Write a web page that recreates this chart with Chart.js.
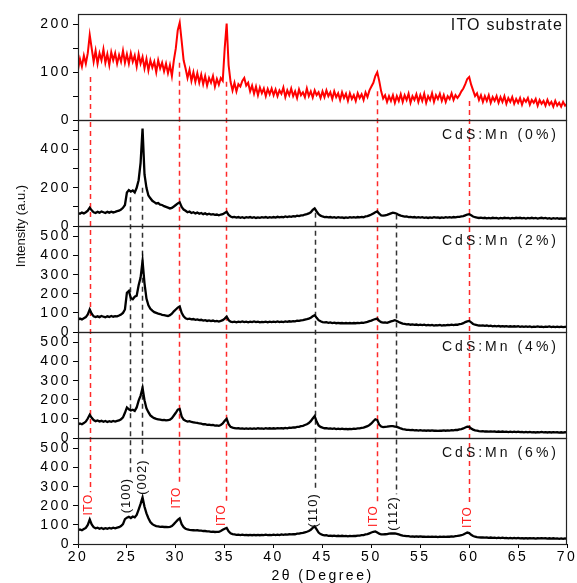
<!DOCTYPE html>
<html><head><meta charset="utf-8">
<script src="https://cdn.jsdelivr.net/npm/chart.js@4/dist/chart.umd.min.js"></script>
<style>html,body{margin:0;padding:0;background:#fff;}#wrap{width:577px;height:583px;}</style>
</head><body><div id="wrap"><canvas id="c" width="577" height="583"></canvas></div>
<script>
// 2θ sampling grid: 20.0 .. 70.0 in 0.2° steps
const xStart = 20, xStep = 0.2, nPts = 251;
const twoTheta = [];
for (let i = 0; i < nPts; i++) twoTheta.push(+(xStart + xStep * i).toFixed(1));

const itoSubstrate = [
105,128,112,135,118,140,178,150,122,145,118,140,125,148,120,138,115,142,125,140,118,136,122,145,120,
138,118,140,122,135,112,138,118,132,108,128,104,125,110,122,100,125,108,120,102,118,98,115,92,125,
150,188,204,165,125,108,88,105,82,100,80,98,78,95,75,92,72,88,78,92,70,86,74,88,82,
150,202,115,80,62,78,60,75,70,82,88,72,78,60,72,55,70,52,68,56,66,50,65,54,66,
52,64,50,62,55,68,48,62,52,66,50,60,46,64,52,58,48,66,50,60,47,62,52,58,46,
60,48,62,50,58,44,60,48,56,42,58,46,55,40,56,44,52,40,56,46,54,42,58,48,62,
70,78,92,100,82,60,45,52,38,50,40,52,36,50,40,54,38,52,42,55,36,50,42,54,38,
52,40,55,36,50,42,56,38,52,44,55,40,52,38,50,44,56,42,52,46,52,60,66,75,86,
90,74,62,50,56,42,52,38,50,40,52,36,48,40,50,36,48,38,50,34,46,38,48,34,44,
36,46,32,44,38,46,32,42,36,44,30,42,34,40,30,42,32,38,28,40,30,36,28,38,30,
34];
const cdsMn0 = [
68,64,70,66,72,80,96,82,72,68,74,70,76,72,68,74,70,75,71,74,78,80,86,95,110,
175,188,180,186,176,200,240,330,510,270,200,160,145,132,125,118,120,112,110,104,100,96,92,95,102,
110,118,124,100,86,80,72,76,68,72,66,70,64,68,62,66,60,64,60,62,58,60,56,60,62,
68,74,58,50,46,48,44,47,43,46,42,46,44,47,43,46,42,45,43,46,44,47,43,46,44,
47,44,48,45,48,46,50,47,50,48,52,50,54,52,56,56,60,62,66,72,84,92,76,62,54,
50,47,48,45,47,44,46,43,46,44,45,42,45,43,46,44,46,44,47,45,48,46,50,52,56,
60,66,72,76,64,56,54,56,58,62,66,70,68,64,58,54,52,49,50,47,48,45,47,44,46,
44,46,43,45,42,45,43,46,44,45,42,45,43,46,44,46,44,47,45,48,48,50,52,56,60,
62,56,50,46,44,42,44,41,43,40,42,40,43,41,42,39,42,40,43,41,42,39,42,40,43,
41,43,40,42,39,42,40,43,40,42,39,41,43,40,42,39,41,38,41,39,41,38,40,38,40,
39];
const cdsMn2 = [
64,70,66,72,78,92,118,96,82,78,82,78,84,80,77,82,79,84,80,83,82,86,92,100,118,
205,215,178,172,185,190,245,285,372,255,175,140,122,112,104,100,96,94,90,88,86,84,88,96,108,
118,128,134,100,82,72,68,70,66,68,64,66,62,64,60,62,58,61,57,60,56,58,55,58,62,
70,80,62,54,52,54,51,54,52,55,52,54,51,54,52,55,52,54,51,53,52,54,51,54,52,
54,52,55,52,54,52,55,53,56,54,57,56,59,58,61,62,65,67,70,75,82,88,74,62,56,
52,50,51,48,50,47,49,46,48,46,47,45,47,45,47,45,47,46,48,47,49,48,51,53,57,
60,64,68,70,58,52,49,50,48,52,56,58,62,58,52,48,44,42,40,41,38,40,37,39,36,
38,36,38,35,37,35,37,34,36,35,37,34,36,35,37,36,38,36,39,38,41,43,46,52,56,
58,50,42,38,36,34,33,35,32,34,31,33,30,32,30,32,29,31,29,31,28,30,28,30,28,
30,27,29,27,29,27,29,26,28,27,29,27,28,26,28,27,29,26,28,26,28,26,28,26,27,
28];
const cdsMn4 = [
70,76,72,78,86,102,122,106,94,88,92,86,90,85,89,84,88,85,89,86,90,92,98,108,132,
160,150,144,148,142,160,196,222,262,198,155,135,118,110,104,100,98,96,94,95,92,93,96,104,118,
132,148,152,112,96,90,86,88,84,82,80,79,76,75,72,72,69,70,67,68,65,66,64,68,76,
90,100,72,58,54,52,50,51,49,50,48,50,48,50,48,50,48,51,49,50,48,51,49,51,49,
51,49,52,50,52,50,53,51,54,53,56,55,58,58,62,64,68,72,78,88,102,115,86,66,58,
54,51,52,49,50,48,50,47,49,47,49,47,48,46,48,47,49,48,50,50,53,54,58,62,68,
76,88,98,94,70,60,57,58,59,61,62,62,60,58,54,50,47,45,43,42,41,42,40,41,39,
41,39,40,38,40,38,40,38,39,37,39,38,40,38,40,39,41,40,42,42,45,47,50,55,59,
58,50,44,40,38,36,35,36,34,35,33,35,33,34,32,34,32,34,32,33,31,33,31,33,31,
33,31,32,30,32,30,32,30,31,29,31,30,32,30,31,29,31,29,31,29,30,28,30,28,30,
29];
const cdsMn6 = [
72,76,72,78,84,100,128,102,88,82,85,80,84,79,83,80,84,81,85,82,86,88,94,104,130,
138,142,136,144,140,152,180,210,244,195,160,135,115,104,98,94,92,90,91,89,90,88,90,94,104,
115,126,134,104,88,80,76,74,73,72,71,72,70,70,68,68,66,66,64,65,63,64,64,68,74,
80,84,66,56,52,50,48,49,47,49,47,48,46,48,46,48,46,48,46,48,47,49,47,48,47,
49,47,49,47,50,48,50,49,51,50,52,51,54,54,57,58,61,64,68,74,84,92,76,60,52,
48,45,46,43,44,42,44,41,43,41,43,41,42,40,42,41,43,42,44,44,46,47,50,52,56,
60,64,66,60,54,50,50,51,52,54,55,56,55,53,50,47,44,43,41,41,39,40,38,40,38,
40,38,39,37,39,37,39,37,38,36,38,37,39,37,39,38,40,39,41,42,44,46,50,55,60,
57,48,42,38,36,35,34,35,33,34,32,34,32,33,31,33,31,33,31,32,30,32,30,32,30,
32,30,31,29,31,29,31,29,30,28,30,29,31,29,30,28,30,28,30,28,29,27,29,27,29,
28];

const panelTitles = ['ITO substrate', 'CdS:Mn (0%)', 'CdS:Mn (2%)', 'CdS:Mn (4%)', 'CdS:Mn (6%)'];
const panelSeries = [itoSubstrate, cdsMn0, cdsMn2, cdsMn4, cdsMn6];
const panelMax = [222, 555, 555, 555, 555];
const itoTickVals = [0, 50, 100, 150, 200];
const itoTickLabels = ['0', '', '100', '', '200'];
const mn0TickVals = [0, 100, 200, 300, 400, 500];
const mn0TickLabels = ['0', '', '200', '', '400', ''];
const mnTickVals = [0, 100, 200, 300, 400, 500];
const mnTickLabels = ['0', '100', '200', '300', '400', '500'];
const xTickStep = 5;

// reference dashed lines (2θ positions) and where they start (value in the named panel)
const itoLinesX = [21.2, 30.35, 35.1, 50.6, 60.0];
const itoLinesStart = [90, 120, 80, 60, 40];
const cdsLinesX = [25.3, 26.55, 44.2, 52.5];
const cdsLinesStart = [150, 200, 70, 60];
// peak annotations drawn in the bottom panel (2θ, intensity of label centre)
const peakLabels = ['ITO', '(100)', '(002)', 'ITO', 'ITO', '(110)', 'ITO', '(112)', 'ITO'];
const peakLabelX = [21.12, 25.0, 26.62, 30.1, 34.7, 44.1, 50.2, 52.3, 59.8];
const peakLabelY = [205, 253, 350, 242, 150, 176, 145, 160, 140];
const itoLineLabel = [0, 3, 4, 6, 8];
const cdsLineLabel = [1, 2, 5, 7];

const FONT = '"Liberation Sans", Arial, sans-serif';
const axisIds = ['y1', 'y2', 'y3', 'y4', 'y5'];

function yAxis(idx, vals, labels) {
  return {
    type: 'linear', position: 'left', stack: 'panels', stackWeight: 1, weight: 5 - idx,
    min: 0, max: panelMax[idx],
    afterBuildTicks: s => { s.ticks = vals.map(v => ({ value: v })); },
    afterFit: s => { s.width = 78; },
    ticks: { autoSkip: false, padding: 2, color: '#000', font: { family: FONT, size: 14 },
      callback: v => labels[vals.indexOf(v)] },
    grid: { drawOnChartArea: false, tickLength: 5, color: '#000', lineWidth: 1 },
    border: { display: true, color: '#000', width: 1 }
  };
}

const scales = {
  x: {
    type: 'linear', min: 20, max: 70,
    afterFit: s => { s.height = 39; },
    ticks: { stepSize: xTickStep, padding: 1, maxRotation: 0, color: '#000', font: { family: FONT, size: 14 } },
    grid: { drawOnChartArea: false, tickLength: 4, color: '#000' },
    border: { color: '#000', width: 1 },
    title: { display: true, text: '2θ (Degree)', color: '#000', font: { family: FONT, size: 14 }, padding: { top: 0, bottom: -2 } }
  },
  y1: yAxis(0, itoTickVals, itoTickLabels),
  y2: yAxis(1, mn0TickVals, mn0TickLabels),
  y3: yAxis(2, mnTickVals, mnTickLabels),
  y4: yAxis(3, mnTickVals, mnTickLabels),
  y5: yAxis(4, mnTickVals, mnTickLabels)
};

const datasets = panelSeries.map((arr, k) => ({
  label: panelTitles[k],
  data: arr.map((v, i) => ({ x: twoTheta[i], y: v })),
  yAxisID: axisIds[k],
  borderColor: k === 0 ? '#ff0000' : '#000000',
  borderWidth: k === 0 ? 2 : 2.3,
  pointRadius: 0,
  tension: 0,
  fill: false
}));

function labelFont(t) { return (t === 'ITO' ? '12px ' : '13px ') + FONT; }
function labelSpacing(t) { return t === 'ITO' ? '0.5px' : '1px'; }

const deco = {
  id: 'deco',
  beforeDraw(chart) { chart.ctx.letterSpacing = '2.5px'; },
  beforeDatasetsDraw(chart) {
    const { ctx, scales: sc } = chart;
    const xs = sc.x, yb = sc.y5;
    ctx.save();
    ctx.lineWidth = 1.5;
    ctx.setLineDash([5, 4]);
    const labelTop = (li) => {
      const t = peakLabels[li];
      ctx.font = labelFont(t); ctx.letterSpacing = labelSpacing(t);
      const w = ctx.measureText(t).width;
      return yb.getPixelForValue(peakLabelY[li]) - w / 2 - 2;
    };
    const line = (x, y0, y1, color) => {
      const px = Math.round(xs.getPixelForValue(x)) + 0.5;
      ctx.strokeStyle = color;
      ctx.beginPath(); ctx.moveTo(px, y0); ctx.lineTo(px, y1); ctx.stroke();
    };
    itoLinesX.forEach((x, i) => line(x, sc.y1.getPixelForValue(itoLinesStart[i]), labelTop(itoLineLabel[i]), '#ff2a2a'));
    cdsLinesX.forEach((x, i) => line(x, sc.y2.getPixelForValue(cdsLinesStart[i]), labelTop(cdsLineLabel[i]), '#333333'));
    ctx.restore();
  },
  afterDatasetsDraw(chart) {
    const { ctx, chartArea: ca, scales: sc } = chart;
    ctx.save();
    // panel frames
    ctx.lineWidth = 1.2; ctx.strokeStyle = '#222';
    axisIds.forEach(id => {
      const a = sc[id];
      ctx.strokeRect(ca.left + 0.5, Math.round(a.top) + 0.5, ca.right - ca.left - 1, Math.round(a.bottom - a.top));
    });
    // panel titles
    ctx.fillStyle = '#111'; ctx.textAlign = 'right'; ctx.textBaseline = 'middle';
    panelTitles.forEach((t, k) => {
      const a = sc[axisIds[k]];
      if (k === 0) { ctx.font = '16px ' + FONT; ctx.letterSpacing = '1.2px'; ctx.fillText(t, ca.right - 4, a.top + 12); }
      else { ctx.font = '14px ' + FONT; ctx.letterSpacing = '3px'; ctx.fillText(t, ca.right - 8, a.top + 15); }
    });
    // peak labels (rotated)
    ctx.textAlign = 'center';
    peakLabels.forEach((t, i) => {
      ctx.save();
      ctx.font = labelFont(t); ctx.letterSpacing = labelSpacing(t);
      ctx.fillStyle = t === 'ITO' ? '#ff2020' : '#111';
      ctx.translate(sc.x.getPixelForValue(peakLabelX[i]), sc.y5.getPixelForValue(peakLabelY[i]));
      ctx.rotate(-Math.PI / 2);
      ctx.fillText(t, 0, 0);
      ctx.restore();
    });
    // y-axis title
    ctx.save();
    ctx.font = '13px ' + FONT; ctx.letterSpacing = '0px'; ctx.fillStyle = '#111';
    ctx.translate(21, 226); ctx.rotate(-Math.PI / 2);
    ctx.fillText('Intensity (a.u.)', 0, 0);
    ctx.restore();
    ctx.restore();
  }
};

new Chart(document.getElementById('c'), {
  type: 'line',
  data: { datasets },
  options: {
    responsive: false, animation: false, devicePixelRatio: 1,
    layout: { padding: { top: 14, right: 10, left: 0, bottom: 0 } },
    plugins: { legend: { display: false }, tooltip: { enabled: false } },
    scales
  },
  plugins: [deco]
});
</script></body></html>
